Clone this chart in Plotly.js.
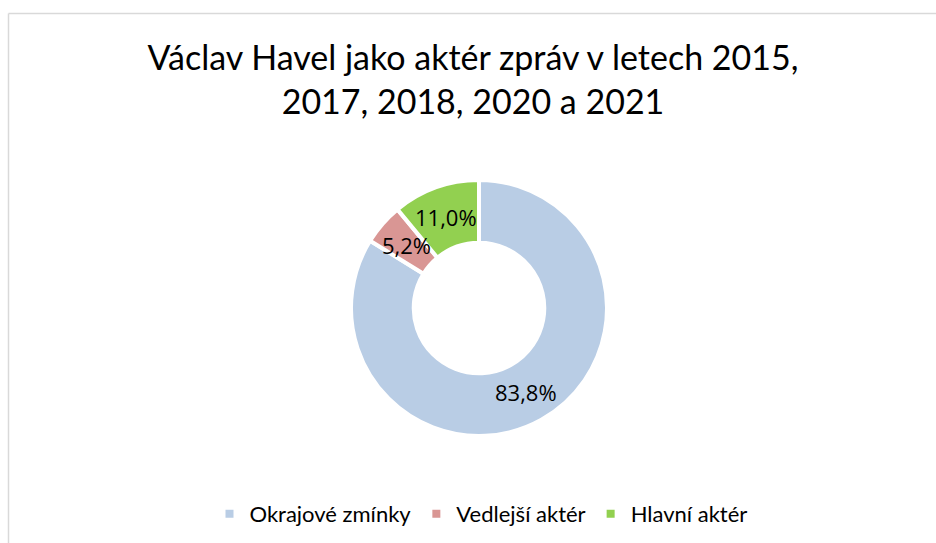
<!DOCTYPE html>
<html>
<head>
<meta charset="utf-8">
<script src="https://cdn.plot.ly/plotly-3.0.1.min.js"></script>
<style>
html,body{margin:0;padding:0;background:#fff;}
#chart{width:936px;height:543px;}
</style>
</head>
<body>
<div id="chart"></div>
<script>
const categories = ["Okrajové zmínky", "Vedlejší aktér", "Hlavní aktér"];
const values = [83.8, 5.2, 11.0];
const colors = ["#B9CDE5", "#D99694", "#92D050"];
const titleText = "Václav Havel jako aktér zpráv v letech 2015,<br>2017, 2018, 2020 a 2021";

const W = 936, H = 543;
const cx = 479, cy = 308, R = 128;
const HOLE = 0.51;
const labelFont = {family: "Open Sans", size: 22, color: "#000000"};

// percentage labels placed at each slice's mid-angle, halfway across the ring (as in the reference)
const total = values.reduce((a, b) => a + b, 0);
const annotations = [];
let cum = 0;
values.forEach((v, i) => {
  const mid = (cum + v / 2) / total;
  cum += v;
  const theta = 2 * Math.PI * mid;
  const r = R * (1 + HOLE) / 2;
  annotations.push({
    xref: "paper", yref: "paper",
    x: (cx + r * Math.sin(theta)) / W,
    y: (H - cy + r * Math.cos(theta)) / H,
    text: (v / total * 100).toFixed(1).replace(".", ",") + "%",
    showarrow: false, font: labelFont, xanchor: "center", yanchor: "middle"
  });
});

const trace = {
  type: "pie",
  labels: categories,
  values: values,
  sort: false,
  direction: "clockwise",
  rotation: 0,
  hole: HOLE,
  marker: {colors: colors, line: {color: "#ffffff", width: 4}},
  textinfo: "none",
  hoverinfo: "none",
  domain: {x: [(cx - R) / W, (cx + R) / W], y: [(H - cy - R) / H, (H - cy + R) / H]}
};

const layout = {
  width: W, height: H,
  margin: {l: 0, r: 0, t: 0, b: 0},
  paper_bgcolor: "#ffffff",
  separators: ", ",
  title: {
    text: titleText,
    font: {family: "Lato", size: 34, color: "#000000"},
    x: 473 / W, xanchor: "center",
    y: 1 - 70 / H, yanchor: "top"
  },
  showlegend: true,
  legend: {
    orientation: "h",
    x: 481 / W, xanchor: "center",
    y: 1 - 493 / H, yanchor: "top",
    font: {family: "Lato", size: 22, color: "#000000"},
    traceorder: "normal",
    itemwidth: 30,
    bgcolor: "rgba(0,0,0,0)"
  },
  annotations: annotations,
  shapes: [
    {type: "line", xref: "paper", yref: "paper", x0: 8.5 / W, x1: 1, y0: 1 - 13.5 / H, y1: 1 - 13.5 / H, line: {color: "#D9D9D9", width: 1.5}},
    {type: "line", xref: "paper", yref: "paper", x0: 8.5 / W, x1: 8.5 / W, y0: 0, y1: 1 - 13.5 / H, line: {color: "#D9D9D9", width: 1.5}}
  ]
};

Plotly.newPlot("chart", [trace], layout, {displayModeBar: false, staticPlot: true});
</script>
</body>
</html>
